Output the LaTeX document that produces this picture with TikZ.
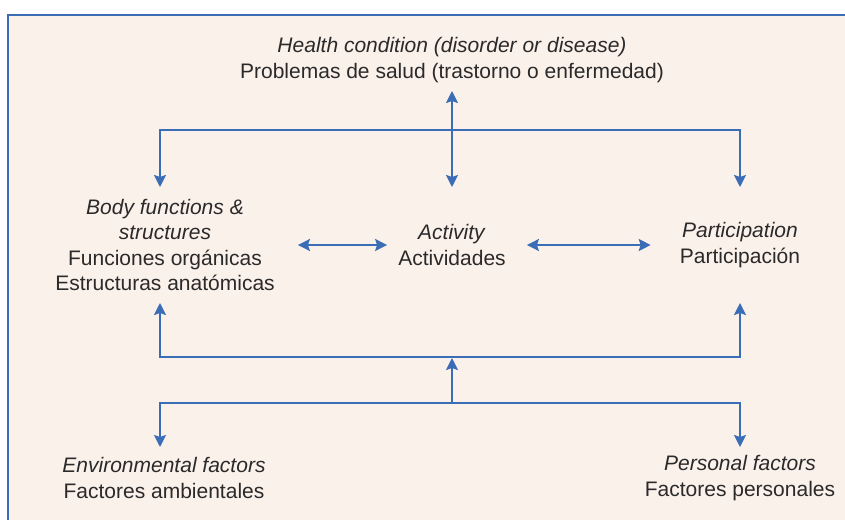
\documentclass[tikz,border=0pt]{standalone}
\usepackage{fontspec}
\setmainfont{Liberation Sans}
\usetikzlibrary{arrows.meta}

\definecolor{icfblue}{HTML}{3A6DB5}
\definecolor{icfpeach}{HTML}{FBF1EB}
\definecolor{icftext}{HTML}{2A2A2A}

\tikzset{
  lbl/.style={align=center, inner sep=0pt, text=icftext,
    font=\fontsize{21}{25.5}\selectfont},
  link/.style={draw=icfblue, line width=2pt,
    >={Stealth[length=12pt, width=12pt, inset=2pt]}}
}

\begin{document}
\begin{tikzpicture}[x=1pt, y=-1pt]
  \useasboundingbox (0,0) rectangle (845,519);
  \clip (0,0) rectangle (845,519);
  \filldraw[fill=icfpeach, draw=icfblue, line width=2pt] (8,15) rectangle (870,540);

  % labels
  \node[lbl] (hc) at (452,60) {\textit{Health condition (disorder or disease)}\\Problemas de salud (trastorno o enfermedad)};
  \node[lbl] (bf) at (165,245) {\textit{Body functions \&}\\\textit{structures}\\Funciones orgánicas\\Estructuras anatómicas};
  \node[lbl] (ac) at (452,245) {\textit{Activity}\\Actividades};
  \node[lbl] (pa) at (740,245) {\textit{Participation}\\Participación};
  \node[lbl] (env) at (164,478) {\textit{Environmental factors}\\Factores ambientales};
  \node[lbl] (pf) at (740,478) {\textit{Personal factors}\\Factores personales};

  % junctions and arrow ends
  \coordinate (hc-out) at (452,91);
  \coordinate (top) at (452,130);
  \coordinate (mid) at (452,357);
  \coordinate (low) at (452,403);
  \coordinate (bf-in) at (160,187);
  \coordinate (ac-in) at (452,187);
  \coordinate (pa-in) at (740,187);
  \coordinate (bf-out) at (160,303);
  \coordinate (pa-out) at (740,303);
  \coordinate (env-in) at (160,447);
  \coordinate (pf-in) at (740,447);

  \draw[link, <->] (hc-out) -- (ac-in);
  \draw[link, ->] (top) -| (bf-in);
  \draw[link, ->] (top) -| (pa-in);
  \draw[link, <->, shorten <=23pt, shorten >=11pt] (bf.east) -- (ac.west);
  \draw[link, <->, shorten <=21pt, shorten >=29pt] (ac.east) -- (pa.west);
  \draw[link, <->] (bf-out) |- (mid) -| (pa-out);
  \draw[link, ->, shorten >=1pt] (low) -- (mid);
  \draw[link, ->] (low) -| (env-in);
  \draw[link, ->] (low) -| (pf-in);
\end{tikzpicture}
\end{document}
